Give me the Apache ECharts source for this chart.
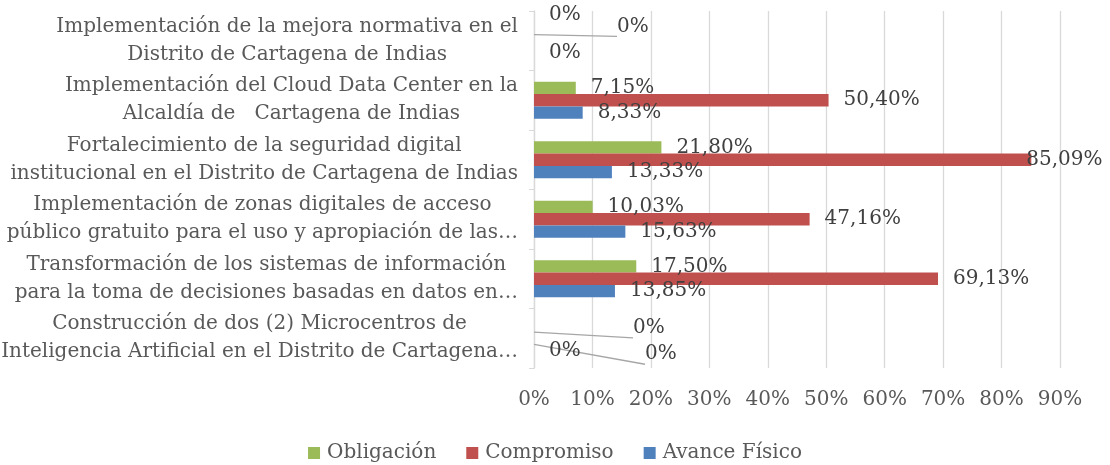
<!DOCTYPE html>
<html>
<head>
<meta charset="utf-8">
<script src="https://cdn.jsdelivr.net/npm/echarts@6/dist/echarts.min.js"></script>
<style>
  html, body { margin: 0; padding: 0; background: #fff; }
  #chart { width: 1110px; height: 465px; }
</style>
</head>
<body>
<div id="chart"></div>
<script>
// categorias (de arriba hacia abajo)
var categorias = [
  'Implementación de la mejora normativa en el\nDistrito de Cartagena de Indias',
  'Implementación del Cloud Data Center en la\nAlcaldía de   Cartagena de Indias',
  'Fortalecimiento de la seguridad digital\ninstitucional en el Distrito de Cartagena de Indias',
  'Implementación de zonas digitales de acceso\npúblico gratuito para el uso y apropiación de las…',
  'Transformación de los sistemas de información\npara la toma de decisiones basadas en datos en…',
  'Construcción de dos (2) Microcentros de\nInteligencia Artificial en el Distrito de Cartagena…'
];
var obligacion  = [0, 7.15, 21.80, 10.03, 17.50, 0];
var compromiso  = [0, 50.40, 85.09, 47.16, 69.13, 0];
var avanceFisico = [0, 8.33, 13.33, 15.63, 13.85, 0];
var ticksX = [0, 10, 20, 30, 40, 50, 60, 70, 80, 90];

var FONT = 'DejaVu Serif';
var SIZE = 20;

// etiquetas movidas en el original: [dx, dy, linea guia]
var ajustesObl = { 0: [68, -2, true], 5: [84, 2, true] };
var ajustesCom = { 0: [0, -26, false], 2: [-20, 0, false], 5: [96, 16, true] };

function fmt(v) {
  if (v === 0) return '0%';
  return v.toFixed(2).replace('.', ',') + '%';
}

function armar(valores, ajustes) {
  return valores.map(function (v, i) {
    var a = ajustes && ajustes[i];
    if (!a) return v;
    return {
      value: v,
      label: { offset: [a[0], a[1]] },
      labelLine: { show: a[2], lineStyle: { color: '#a6a6a6', width: 1.3 } }
    };
  });
}

var etiqueta = {
  show: true,
  position: 'right',
  distance: 15,
  fontFamily: FONT,
  fontSize: SIZE,
  color: '#404040',
  formatter: function (p) { return fmt(p.value); }
};

var chart = echarts.init(document.getElementById('chart'));
chart.setOption({
  animation: false,
  textStyle: { fontFamily: FONT },
  grid: { left: 534, right: 50, top: 11, bottom: 97, containLabel: false, outerBoundsMode: 'none' },
  legend: {
    data: ['Obligación', 'Compromiso', 'Avance Físico'],
    top: 438,
    left: 'center',
    icon: 'rect',
    itemWidth: 12,
    itemHeight: 12,
    itemGap: 30,
    textStyle: { fontFamily: FONT, fontSize: SIZE, color: '#595959', padding: [0, 0, 0, 2] }
  },
  xAxis: {
    type: 'value',
    min: 0,
    max: 90,
    interval: 10,
    axisLine: { show: false },
    axisTick: { show: false },
    splitLine: { show: true, lineStyle: { color: '#d9d9d9', width: 1.3 } },
    axisLabel: {
      margin: 22,
      fontFamily: FONT,
      fontSize: SIZE,
      color: '#595959',
      formatter: function (v) { return ticksX.indexOf(v) >= 0 ? v + '%' : ''; }
    }
  },
  yAxis: {
    type: 'category',
    inverse: true,
    data: categorias,
    axisLine: { show: true, lineStyle: { color: '#d9d9d9', width: 1.3 } },
    axisTick: { show: true, length: 5, lineStyle: { color: '#d9d9d9' } },
    axisLabel: {
      margin: 16,
      align: 'right',
      lineHeight: 28,
      formatter: function (v) {
        return v.split('\n').map(function (l) { return '{c|' + l + '}'; }).join('\n');
      },
      rich: {
        c: { align: 'center', fontFamily: FONT, fontSize: SIZE, color: '#595959', lineHeight: 28 }
      }
    }
  },
  series: [
    {
      name: 'Obligación', type: 'bar', data: armar(obligacion, ajustesObl),
      barWidth: 12.3, barGap: 0,
      itemStyle: { color: '#9bbb59' }, label: etiqueta
    },
    {
      name: 'Compromiso', type: 'bar', data: armar(compromiso, ajustesCom),
      barWidth: 12.3, barGap: 0,
      itemStyle: { color: '#c0504d' }, label: etiqueta
    },
    {
      name: 'Avance Físico', type: 'bar', data: armar(avanceFisico),
      barWidth: 12.3, barGap: 0,
      itemStyle: { color: '#4f81bd' }, label: etiqueta
    }
  ]
});
</script>
</body>
</html>
